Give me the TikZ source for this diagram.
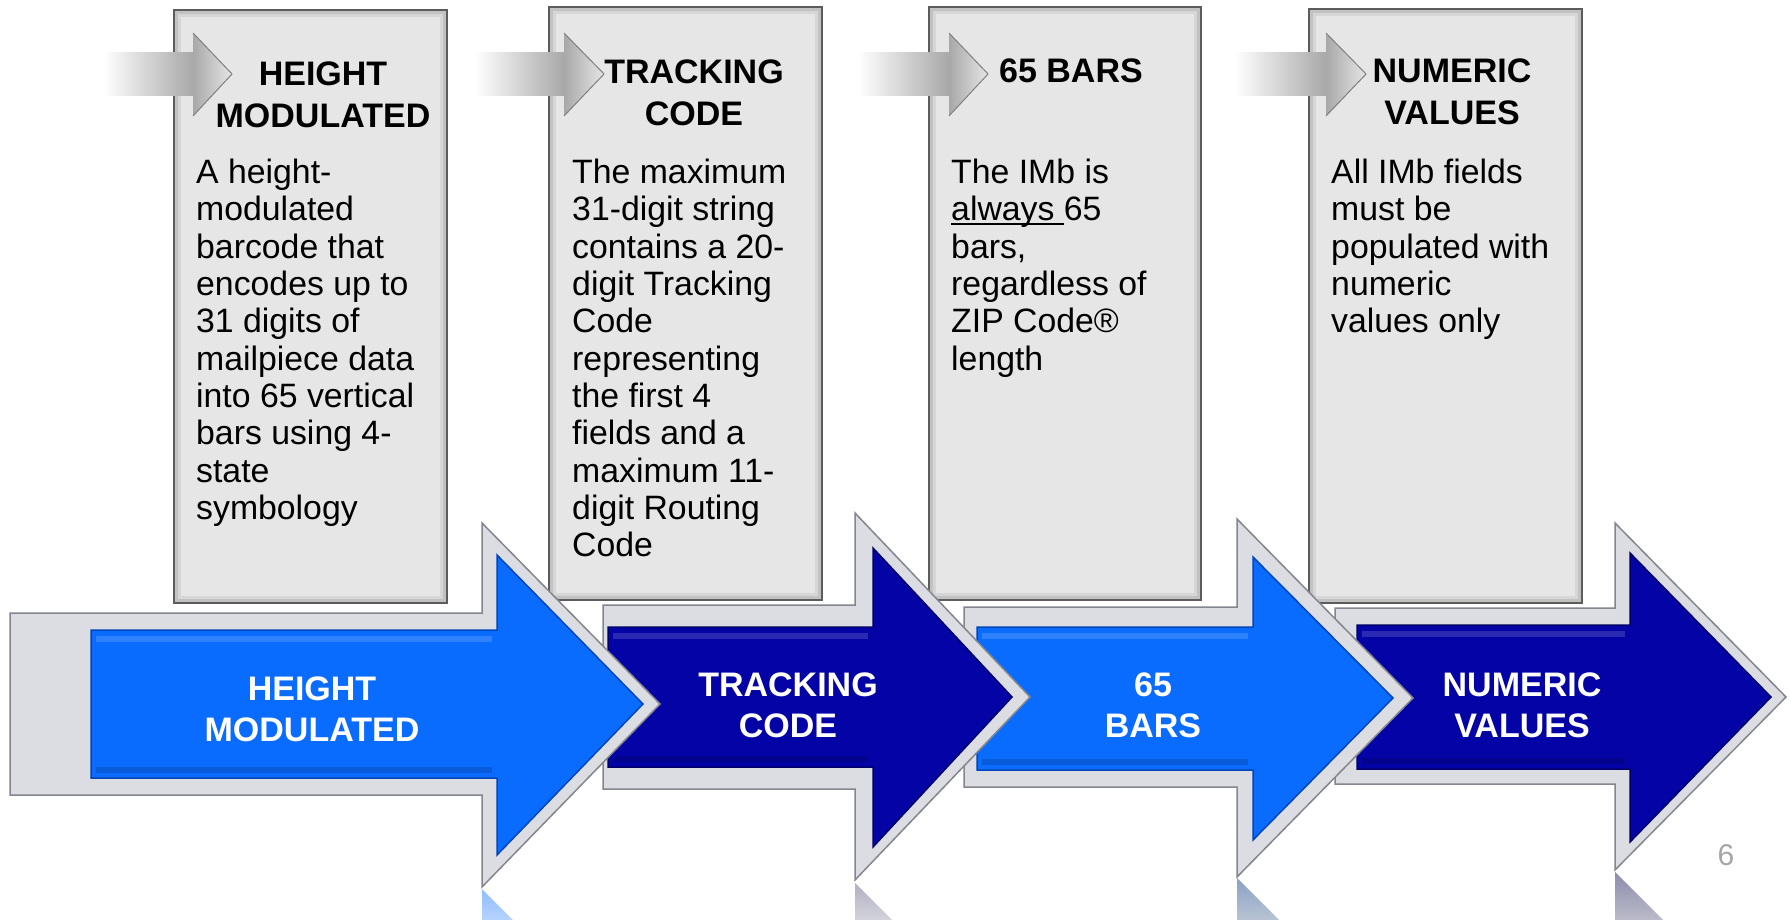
\documentclass[tikz,border=0pt]{standalone}
\usepackage{fontspec}
\setmainfont{Liberation Sans}
\definecolor{boxfill}{HTML}{E6E6E6}
\definecolor{boxline}{HTML}{5C5C5C}
\definecolor{boxsha}{HTML}{C2C2C2}
\definecolor{boxshb}{HTML}{D6D6D6}
\definecolor{framefill}{HTML}{DCDDE2}
\definecolor{frameline}{HTML}{83868F}
\definecolor{liteblue}{HTML}{0A6CFF}
\definecolor{liteedge}{HTML}{0046B8}
\definecolor{navy}{HTML}{0404A6}
\definecolor{navyedge}{HTML}{00006A}
\definecolor{sgray}{HTML}{A8A8A8}
\newlength\ulw
\newcommand\undl[1]{\settowidth\ulw{#1}\rlap{\rule[-4.5pt]{\ulw}{2.2pt}}#1}

\begin{document}
\begin{tikzpicture}
		[x=1pt, y=-1pt,
		hd/.style= {font=\bfseries\fontsize{34}{42}\selectfont, align=center, anchor=base, inner sep=0pt},
		bd/.style= {font=\fontsize{33.8}{37.3}\selectfont, align=left, anchor=north west, inner sep=0pt},
		lbl/.style= {font=\bfseries\fontsize{34}{41}\selectfont, text=white, align=center, anchor=base, inner sep=0pt},
		frm/.style= {fill=framefill, draw=frameline, line width=1.5pt},
		lite/.style= {fill=liteblue, draw=liteedge, line width=1.5pt},
		dark/.style= {fill=navy, draw=navyedge, line width=1.5pt},
		hilite/.style= {white, opacity=.15, line width=6pt},
		shadow/.style= {black, opacity=.15, line width=6pt}]

		\useasboundingbox (0,0) rectangle (1791,920);
		\fill[white] (0,0) rectangle (1791,920);

		% grey text boxes
		\foreach \l/\t/\r/\b in {174/10/447/603, 549/7/822/600, 929/7/1201/600, 1309/9/1582/603} {
			\fill[boxfill] (\l,\t) rectangle (\r,\b);
			\draw[boxsha, line width=3pt] (\l+2.5,\t+2.5) rectangle (\r-2.5,\b-2.5);
			\draw[boxshb, line width=3pt] (\l+5.5,\t+5.5) rectangle (\r-5.5,\b-5.5);
			\draw[boxline, line width=1.5pt] (\l,\t) rectangle (\r,\b);
		}

		% small grey arrows
		\foreach \s/\h/\p in {103/193/232, 475/564/604, 858/949/988, 1235/1326/1366} {
			\shade[left color=white, right color=sgray] (\s,53) rectangle (\h,96);
			\shade[left color=sgray, right color=boxfill] (\h,33) -- (\p,74) -- (\h,116) -- cycle;
			\draw[gray, line width=1pt] (\h,33) -- (\p,74) -- (\h,116);
		}

		\node[hd] (h1) at (323,128) {HEIGHT\\MODULATED};
		\node[hd] (h2) at (694,126) {TRACKING\\CODE};
		\node[hd] (h3) at (1071,83) {65 BARS};
		\node[hd] (h4) at (1452,125) {NUMERIC\\VALUES};

		\node[bd] (t1) at (196,159) {A height-\\modulated\\barcode that\\encodes up to\\31 digits of\\mailpiece data\\into 65 vertical\\bars using 4-\\state\\symbology};
		\node[bd] (t2) at (572,159) {The maximum\\31-digit string\\contains a 20-\\digit Tracking\\Code\\representing\\the first 4\\fields and a\\maximum 11-\\digit Routing\\Code};
		\node[bd] (t3) at (951,159) {The IMb is\\\undl{always\ }65\\bars,\\regardless of\\ZIP Code®\\length};
		\node[bd] (t4) at (1331,159) {All IMb fields\\must be\\populated with\\numeric\\values only};

		% big arrows, last one first
		\filldraw[frm] (1335,608) -- (1615,608) -- (1615,523) -- (1786,697) -- (1615,870) -- (1615,784) -- (1335,784) -- cycle;
		\filldraw[dark] (1357,625) -- (1630,625) -- (1630,553) -- (1771,697) -- (1630,842) -- (1630,769) -- (1357,769) -- cycle;
		\draw[hilite] (1362,634) -- (1625,634);
		\draw[shadow] (1362,761) -- (1625,761);

		\filldraw[frm] (964,607) -- (1237,607) -- (1237,519) -- (1413,698) -- (1237,877) -- (1237,787) -- (964,787) -- cycle;
		\filldraw[lite] (977,627) -- (1253,627) -- (1253,557) -- (1393,698) -- (1253,840) -- (1253,770) -- (977,770) -- cycle;
		\draw[hilite] (982,636) -- (1248,636);
		\draw[shadow] (982,762) -- (1248,762);

		\filldraw[frm] (603,605) -- (855,605) -- (855,513) -- (1030,697) -- (855,880) -- (855,789) -- (603,789) -- cycle;
		\filldraw[dark] (608,627) -- (873,627) -- (873,548) -- (1012,697) -- (873,847) -- (873,767) -- (608,767) -- cycle;
		\draw[hilite] (613,636) -- (868,636);
		\draw[shadow] (613,759) -- (868,759);

		\filldraw[frm] (10,613) -- (482,613) -- (482,523) -- (660,704) -- (482,887) -- (482,795) -- (10,795) -- cycle;
		\filldraw[lite] (91,630) -- (497,630) -- (497,555) -- (643,704) -- (497,855) -- (497,778) -- (91,778) -- cycle;
		\draw[hilite] (96,639) -- (492,639);
		\draw[shadow] (96,770) -- (492,770);

		\node[lbl] (a1) at (312,741) {HEIGHT\\MODULATED};
		\node[lbl] (a2) at (788,737) {TRACKING\\CODE};
		\node[lbl] (a3) at (1153,737) {65\\BARS};
		\node[lbl] (a4) at (1522,737) {NUMERIC\\VALUES};

		% reflections under the arrow heads
		\shade[top color=liteblue!45, bottom color=liteblue!30] (482,889) -- (513,920) -- (482,920) -- cycle;
		\shade[top color=navy!25!gray!50, bottom color=navy!15!gray!30] (855,883) -- (892,920) -- (855,920) -- cycle;
		\shade[top color=liteblue!35!gray!70, bottom color=liteblue!25!gray!45] (1237,878) -- (1279,920) -- (1237,920) -- cycle;
		\shade[top color=navy!30!gray!70, bottom color=navy!20!gray!45] (1615,872) -- (1663,920) -- (1615,920) -- cycle;

		\node[font=\fontsize{30}{30}\selectfont, text=gray!70, anchor=base, inner sep=0pt] (pg) at (1726,865) {6};

	\end{tikzpicture}
\end{document}
